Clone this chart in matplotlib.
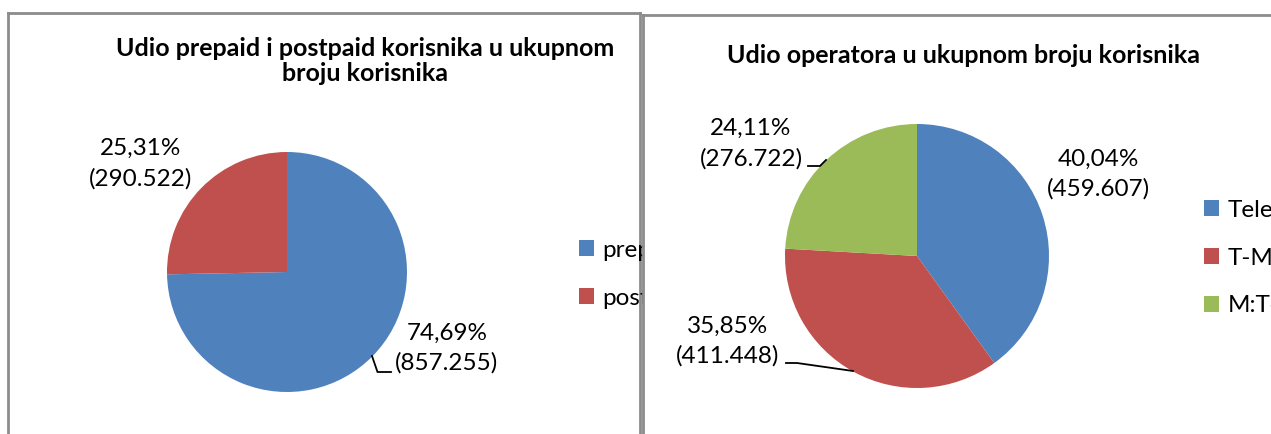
import matplotlib
matplotlib.use("Agg")
import matplotlib.pyplot as plt

# ---- data ----
title_left = "Udio prepaid i postpaid korisnika u ukupnom\nbroju korisnika"
cats_left = ["prepaid", "postpaid"]
vals_left = [857255, 290522]

title_right = "Udio operatora u ukupnom broju korisnika"
cats_right = ["Telenor", "T-Mobile", "M:Tel"]
vals_right = [459607, 411448, 276722]

colors_left = ["#4F81BD", "#C0504D"]
colors_right = ["#4F81BD", "#C0504D", "#9BBB59"]

W, H = 1271, 434
FONT = "Lato"
LBL = 17.5
TTL = 18
LS = 1.5
plt.rcParams['font.family'] = [FONT, 'DejaVu Sans']

fig = plt.figure(figsize=(W / 100, H / 100), dpi=100)
fig.patch.set_facecolor("white")


def px_axes(x0, y0, x1, y1, z):
    ax = fig.add_axes([x0 / W, 1 - y1 / H, (x1 - x0) / W, (y1 - y0) / H])
    ax.set_zorder(z)
    return ax


def finish(ax, x0, y0, x1, y1):
    ax.set_xlim(x0, x1)
    ax.set_ylim(H - y1, H - y0)
    ax.set_aspect('auto')
    ax.set_frame_on(True)
    ax.patch.set_facecolor("white")
    ax.patch.set_visible(True)
    for s in ax.spines.values():
        s.set_color("#8c8c8c")
        s.set_linewidth(2.0)
    ax.set_xticks([])
    ax.set_yticks([])


def fmt(v, tot):
    pct = f"{100 * v / tot:.2f}".replace('.', ',')
    cnt = f"{v:,}".replace(',', '.')
    return f"{pct}%\n({cnt})"


# ---- left chart ----
LB = (7.5, 13, 640, 470)
axL = px_axes(*LB, 1)
wL, _ = axL.pie(vals_left, colors=colors_left, startangle=90, counterclock=False,
                center=(287, H - 272), radius=120, wedgeprops=dict(linewidth=0))
finish(axL, *LB)
totL = sum(vals_left)
axL.text(365, H - 61, title_left, ha='center', va='center', fontsize=TTL,
         fontweight='bold', linespacing=1.15)
axL.text(141, H - 163.5, fmt(vals_left[1], totL), ha='center', va='center',
         fontsize=LBL, linespacing=LS)
axL.text(447, H - 348, fmt(vals_left[0], totL), ha='center', va='center',
         fontsize=LBL, linespacing=LS)
axL.plot([372, 377.5, 391], [H - 356, H - 372, H - 372], color='black', lw=1.3)
axL.legend(wL, cats_left, loc='upper left', bbox_to_anchor=(557, H - 218),
           bbox_transform=axL.transData,
           frameon=False, fontsize=LBL, handlelength=0.62, handleheight=0.62,
           labelspacing=1.1, handletextpad=0.35)

# ---- right chart ----
RB = (642.5, 15, 1300, 470)
axR = px_axes(*RB, 2)
wR, _ = axR.pie(vals_right, colors=colors_right, startangle=90, counterclock=False,
                center=(917, H - 256), radius=132, wedgeprops=dict(linewidth=0))
finish(axR, *RB)
totR = sum(vals_right)
axR.text(963, H - 55, title_right, ha='center', va='center', fontsize=TTL,
         fontweight='bold')
axR.text(1098, H - 174, fmt(vals_right[0], totR), ha='center', va='center',
         fontsize=LBL, linespacing=LS)
axR.text(728, H - 341, fmt(vals_right[1], totR), ha='center', va='center',
         fontsize=LBL, linespacing=LS)
axR.text(751, H - 143.5, fmt(vals_right[2], totR), ha='center', va='center',
         fontsize=LBL, linespacing=LS)
axR.plot([786, 797, 853], [H - 363, H - 363, H - 371], color='black', lw=1.3)
axR.plot([808, 820, 826], [H - 166, H - 166, H - 160], color='black', lw=1.3)
axR.legend(wR, cats_right, loc='upper left', bbox_to_anchor=(1182, H - 178),
           bbox_transform=axR.transData,
           frameon=False, fontsize=LBL, handlelength=0.62, handleheight=0.62,
           labelspacing=1.1, handletextpad=0.35)

fig.savefig("out.png", dpi=100, facecolor="white")
